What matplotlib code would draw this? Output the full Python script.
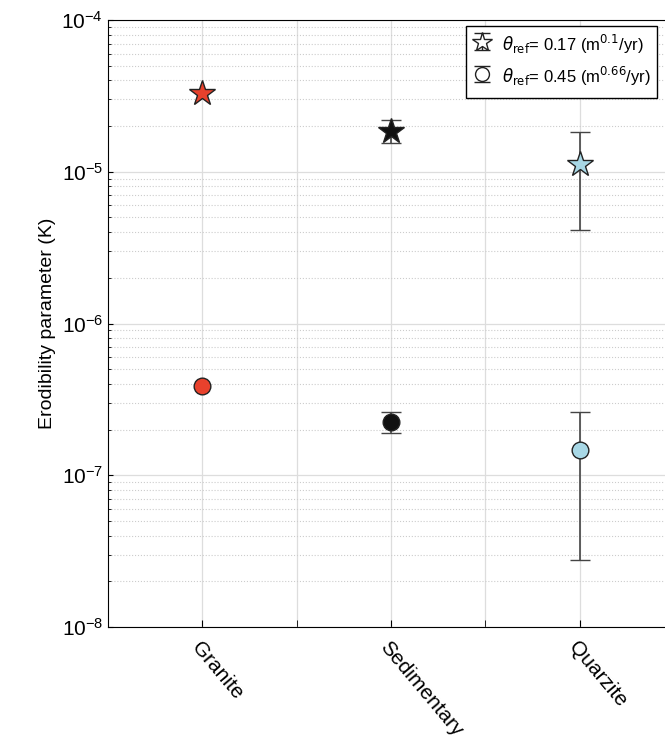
import numpy as np
from matplotlib import pyplot as plt
from matplotlib.ticker import LogLocator, NullFormatter

rocks = ['Granite', 'Sedimentary', 'Quarzite']
colors = ['#e8412c', '#111111', '#a8d8e6']

# theta_ref = 0.17
k_star = [3.3e-5, 1.85e-5, 1.13e-5]
k_star_lo = [3.3e-5, 1.55e-5, 4.15e-6]
k_star_hi = [3.3e-5, 2.2e-5, 1.83e-5]

# theta_ref = 0.45
k_circ = [3.85e-7, 2.25e-7, 1.46e-7]
k_circ_lo = [3.85e-7, 1.9e-7, 2.75e-8]
k_circ_hi = [3.85e-7, 2.6e-7, 2.6e-7]

plt.rcParams['font.family'] = ['Liberation Sans', 'DejaVu Sans']

fig = plt.figure(figsize=(6.65, 7.54), dpi=100)
ax = fig.add_axes([108/665, 1-627/754, 566/665, 607/754])
x = np.arange(len(rocks))

for i in range(len(rocks)):
    if k_star_hi[i] != k_star_lo[i]:
        ax.errorbar(x[i], k_star[i], yerr=[[k_star[i]-k_star_lo[i]], [k_star_hi[i]-k_star[i]]],
                    fmt='none', ecolor='#444444', elinewidth=1.2, capsize=7, zorder=3)
    if k_circ_hi[i] != k_circ_lo[i]:
        ax.errorbar(x[i], k_circ[i], yerr=[[k_circ[i]-k_circ_lo[i]], [k_circ_hi[i]-k_circ[i]]],
                    fmt='none', ecolor='#444444', elinewidth=1.2, capsize=7, zorder=3)
    ax.plot(x[i], k_star[i], marker='*', ms=19, color=colors[i], mec='#222222', mew=1, zorder=4)
    ax.plot(x[i], k_circ[i], marker='o', ms=12, color=colors[i], mec='#222222', mew=1, zorder=4)

ax.set_yscale('log')
ax.set_ylim(1e-8, 1e-4)
ax.set_xlim(-0.5, 2.5)
ax.set_xticks(x)
ax.set_xticks([0.5, 1.5], minor=True)
ax.set_xticklabels(rocks, rotation=-50, ha='left', rotation_mode='anchor', fontsize=15)
ax.yaxis.set_minor_locator(LogLocator(base=10, subs=np.arange(2, 10)))
ax.yaxis.set_minor_formatter(NullFormatter())
ax.tick_params(axis='y', labelsize=15, direction='in', which='both', right=False)
ax.tick_params(axis='x', direction='in', which='both', length=5, pad=8)
ax.spines['right'].set_visible(False)
ax.grid(True, which='major', color='#dddddd', lw=0.9)
ax.grid(True, which='minor', axis='x', color='#dddddd', lw=0.9)
ax.grid(True, which='minor', axis='y', color='#cccccc', lw=0.8, ls=':')
ax.set_axisbelow(True)
ax.set_ylabel('Erodibility parameter (K)', fontsize=14)

# legend handles drawn on a hidden axes
hid = fig.add_axes([0, 0, 0.01, 0.01])
hid.set_visible(False)
h1 = hid.errorbar([0], [1], yerr=[0.5], fmt='*', ms=15, mfc='white', mec='#222222',
                  ecolor='#222222', capsize=6, elinewidth=1)
h2 = hid.errorbar([0], [1], yerr=[0.5], fmt='o', ms=10, mfc='white', mec='#222222',
                  ecolor='#222222', capsize=6, elinewidth=1)
leg = fig.legend([h1, h2],
                 [r'$\theta_{\rm ref}$= 0.17 (m$^{0.1}$/yr)', r'$\theta_{\rm ref}$= 0.45 (m$^{0.66}$/yr)'],
                 loc='upper left', bbox_to_anchor=(458/665, 1-18/754), fontsize=12,
                 frameon=True, fancybox=False, edgecolor='black', framealpha=1,
                 handlelength=1.2, handleheight=2.2, borderpad=0.35, labelspacing=0.25,
                 handletextpad=0.6)
leg.get_frame().set_linewidth(1)

fig.savefig('out.png', dpi=100)
